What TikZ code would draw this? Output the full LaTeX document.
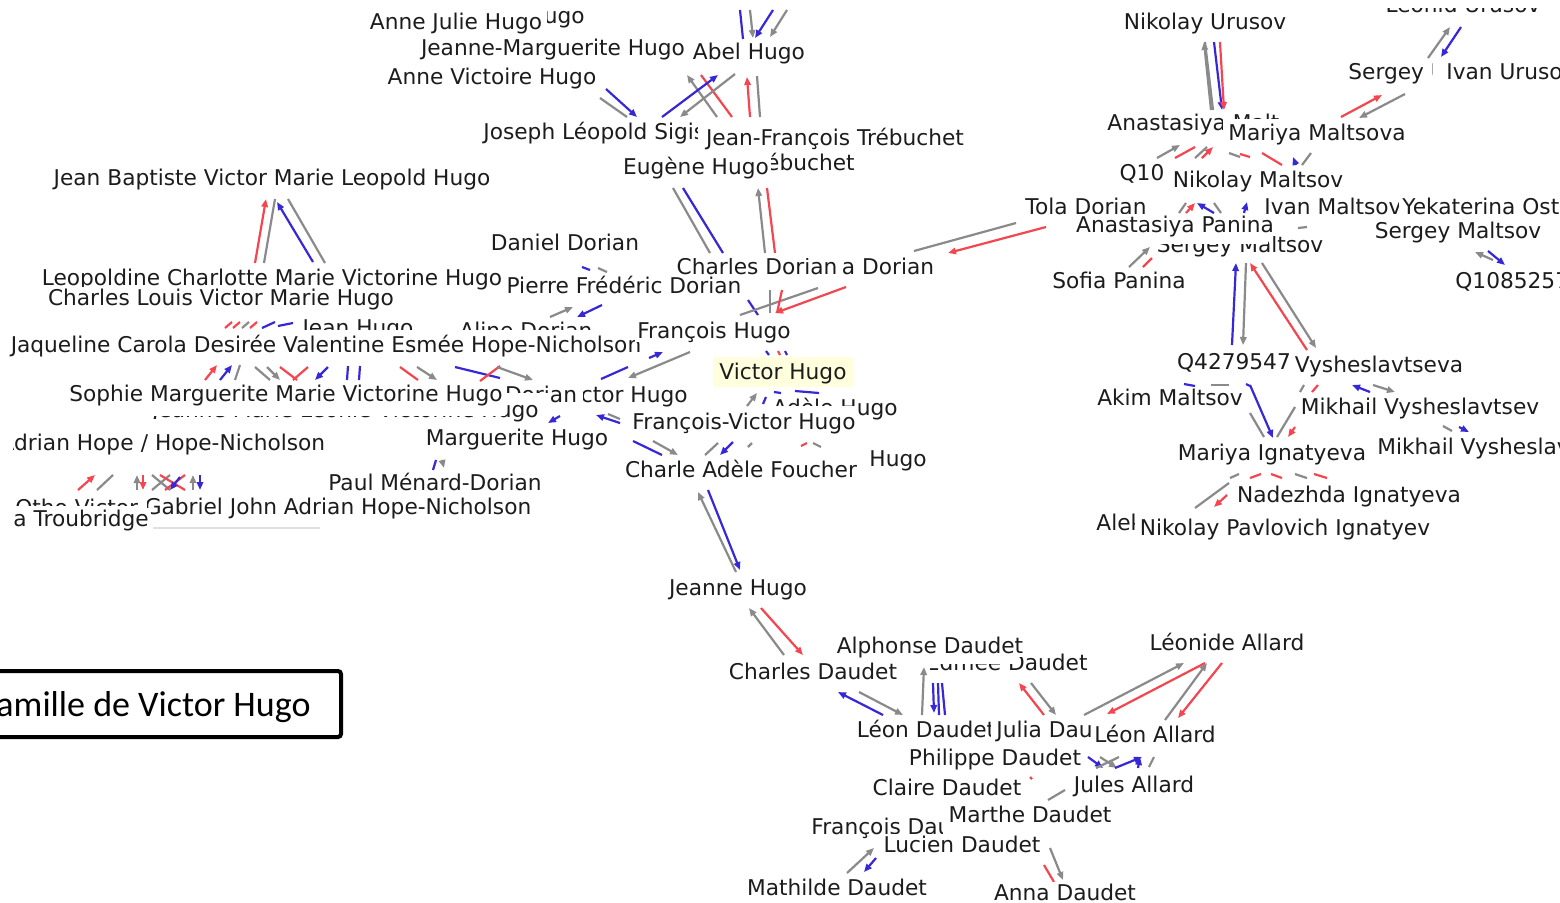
\documentclass[tikz,border=0pt]{standalone}
\usepackage{fontspec}
\setmainfont{DejaVu Sans}
\newfontfamily\titlefont{Carlito}
\usetikzlibrary{arrows.meta,calc}
\definecolor{gcol}{RGB}{138,138,138}
\definecolor{rcol}{RGB}{245,70,80}
\definecolor{bcol}{RGB}{55,40,215}
\definecolor{txt}{RGB}{28,28,28}
\definecolor{vhy}{RGB}{255,255,222}
\pgfdeclarelayer{bg}
\pgfdeclarelayer{edges}
\pgfsetlayers{bg,edges,main}
\begin{document}
\begin{tikzpicture}[x=0.5pt,y=-0.5pt,
 nd/.style={font=\fontsize{10.85pt}{13pt}\selectfont, text=txt, fill=white, inner xsep=1pt, inner ysep=1.5pt, text height=7.8pt, text depth=0pt},
 ln/.style={line width=1.1pt},
 headed/.style={-{Triangle[length=4pt,width=3.2pt]}},
 ga/.style={ln,draw=gcol,headed}, gl/.style={ln,draw=gcol},
 ra/.style={ln,draw=rcol,headed}, rl/.style={ln,draw=rcol},
 ba/.style={ln,draw=bcol,headed}, bl/.style={ln,draw=bcol}]
\useasboundingbox (0,0) rectangle (1560,902);
\begin{pgfonlayer}{bg}
\fill[white] (0,0) rectangle (1560,902);
\end{pgfonlayer}
% ---------------- nodes: top left cluster
\begin{scope}\clip (547,0) rectangle (600,40);
\node[nd,anchor=east] (hgo) at (587,16) {Hugo};\end{scope}
\node[nd] (ajh) at (456,22) {Anne Julie Hugo};
\begin{scope}\clip (400,38) rectangle (700,70);
\node[nd] (jmh) at (553,48) {Jeanne-Marguerite Hugo};\end{scope}
\node[nd] (abel) at (749,52) {Abel Hugo};
\node[nd] (avh) at (492,77) {Anne Victoire Hugo};
\begin{scope}\clip (470,110) rectangle (697,150);
\node[nd,anchor=west] (jls) at (481,132) {Joseph Léopold Sigisbert Hugo};\end{scope}
\node[nd] (jft) at (835,138) {Jean-François Trébuchet};
\begin{scope}\clip (769,150) rectangle (870,180);
\node[nd,anchor=east] (soph) at (857,163) {Sophie Trébuchet};\end{scope}
\node[nd] (eug) at (696,167) {Eugène Hugo};
\node[nd] (jbv) at (272,178) {Jean Baptiste Victor Marie Leopold Hugo};
\node[nd] (dan) at (565,243) {Daniel Dorian};
\begin{scope}\clip (670,258) rectangle (840,290);
\node[nd] (chd) at (757,267) {Charles Dorian};\end{scope}
\node[nd] (adr) at (888,267) {a Dorian};
\node[nd] (lcm) at (272,278) {Leopoldine Charlotte Marie Victorine Hugo};
\node[nd] (clv) at (221,298) {Charles Louis Victor Marie Hugo};
\node[nd] (pfd) at (624,286) {Pierre Frédéric Dorian};
\begin{scope}\clip (290,310) rectangle (600,329);
\node[nd,fill=none] (jean) at (358,328) {Jean Hugo};
\node[nd,fill=none] (aline) at (526,331) {Aline Dorian};\end{scope}
\node[nd] (jaq) at (326,345) {Jaqueline Carola Desirée Valentine Esmée Hope-Nicholson};
\node[nd] (fh) at (714,331) {François Hugo};
\node[nd,fill=vhy,minimum width=70pt,minimum height=15pt] (vh) at (783,372) {Victor Hugo};
\begin{scope}\clip (150,416) rectangle (505,418.5) (505,400) rectangle (545,425);
\node[nd,anchor=east,fill=none] (jml) at (541,410) {Jeanne Marie Léonie Victorine Hugo};\end{scope}
\node[nd] (smm) at (286,394) {Sophie Marguerite Marie Victorine Hugo};
\begin{scope}\clip (583,380) rectangle (700,410);
\node[nd,anchor=east] (gvh) at (690,395) {Victor Hugo};\end{scope}
\begin{scope}\clip (503,380) rectangle (548,392) (548,380) rectangle (578,412);
\node[nd,fill=none] (dor) at (541,395) {Dorian};\end{scope}
\begin{scope}\clip (770,395) rectangle (858,405) (858,395) rectangle (905,420);
\node[nd,anchor=east,fill=none] (adele) at (900,408) {Adèle Hugo};\end{scope}
\node[nd] (fvh) at (744,422) {François-Victor Hugo};
\node[nd] (mgh) at (517,438) {Marguerite Hugo};
\node[nd] (hugo2) at (898,459) {Hugo};
\node[nd] (caf) at (741,470) {Charle Adèle Foucher};
\begin{scope}\clip (13,430) rectangle (140,460);
\node[nd,anchor=east] (adh) at (136,443) {Adrian Hope};\end{scope}
\node[nd] (hn) at (233,443) {/ Hope-Nicholson};
\node[nd] (pmd) at (435,483) {Paul Ménard-Dorian};
\begin{scope}\clip (13,495) rectangle (145,505);
\node[nd,anchor=west,fill=none] (otho) at (13,508) {Otho Victor};\end{scope}
\begin{scope}\clip (147,490) rectangle (560,525);
\node[nd] (gab) at (338,507) {Gabriel John Adrian Hope-Nicholson};\end{scope}
\node[nd,anchor=west] (trb) at (11,519) {a Troubridge};
% ---------------- right cluster
\node[nd] (nu) at (1205,22) {Nikolay Urusov};
\begin{scope}\clip (1380,8) rectangle (1545,20);
\node[nd,fill=none] (lu) at (1463,5) {Leonid Urusov};\end{scope}
\begin{scope}\clip (1340,55) rectangle (1432,90);
\node[nd,anchor=west] (su) at (1346,72) {Sergey Urusov};\end{scope}
\node[nd,anchor=west] (iu) at (1444,72) {Ivan Urusov};
\begin{scope}\clip (1095,100) rectangle (1222,140) (1222,100) rectangle (1280,118);
\node[nd,anchor=west] (anm) at (1105,123) {Anastasiya Maltsova};\end{scope}
\node[nd] (mm) at (1317,133) {Mariya Maltsova};
\node[nd] (q10) at (1142,173) {Q10};
\node[nd] (nm) at (1258,180) {Nikolay Maltsov};
\node[nd] (tola) at (1086,207) {Tola Dorian};
\begin{scope}\clip (1255,190) rectangle (1398,225);
\node[nd,anchor=west] (im) at (1262,207) {Ivan Maltsov};\end{scope}
\node[nd,anchor=west] (yek) at (1400,207) {Yekaterina Ost};
\begin{scope}\clip (1150,244) rectangle (1268,262) (1268,232) rectangle (1330,262);
\node[nd,fill=none] (smb) at (1240,245) {Sergey Maltsov};\end{scope}
\node[nd] (anp) at (1175,225) {Anastasiya Panina};
\node[nd] (smr) at (1458,231) {Sergey Maltsov};
\node[nd] (sof) at (1119,281) {Sofia Panina};
\node[nd,anchor=west] (q108) at (1453,281) {Q1085257};
\node[nd] (q42) at (1234,362) {Q4279547};
\node[nd] (vys) at (1379,365) {Vysheslavtseva};
\node[nd] (akim) at (1170,398) {Akim Maltsov};
\node[nd] (mv) at (1420,407) {Mikhail Vysheslavtsev};
\node[nd,anchor=west] (mv2) at (1375,447) {Mikhail Vysheslavtsev};
\node[nd] (mi) at (1272,453) {Mariya Ignatyeva};
\node[nd] (ni) at (1349,495) {Nadezhda Ignatyeva};
\begin{scope}\clip (1090,505) rectangle (1134,540);
\node[nd,anchor=west] (ale) at (1094,523) {Aleksey};\end{scope}
\node[nd] (npi) at (1285,528) {Nikolay Pavlovich Ignatyev};
% ---------------- bottom cluster
\node[nd] (jh) at (738,588) {Jeanne Hugo};
\begin{scope}\clip (930,664) rectangle (1014,690) (1014,650) rectangle (1095,690);
\node[nd,anchor=east,fill=none] (ed) at (1090,663) {Edmée Daudet};\end{scope}
\node[nd] (ad) at (930,646) {Alphonse Daudet};
\node[nd] (cd) at (813,672) {Charles Daudet};
\node[nd] (la) at (1227,643) {Léonide Allard};
\begin{scope}\clip (850,715) rectangle (990,745);
\node[nd] (ld) at (926,730) {Léon Daudet};\end{scope}
\begin{scope}\clip (990,715) rectangle (1092,745);
\node[nd,anchor=west] (jd) at (994,730) {Julia Daudet};\end{scope}
\node[nd] (la2) at (1155,735) {Léon Allard};
\node[nd] (pd) at (995,758) {Philippe Daudet};
\node[nd] (cl) at (947,788) {Claire Daudet};
\node[nd] (ja) at (1134,785) {Jules Allard};
\begin{scope}\clip (805,812) rectangle (942,840);
\node[nd,anchor=west] (fd) at (809,827) {François Daudet};\end{scope}
\node[nd] (md) at (1030,815) {Marthe Daudet};
\node[nd] (lud) at (962,845) {Lucien Daudet};
\node[nd] (mat) at (837,888) {Mathilde Daudet};
\node[nd] (anna) at (1065,893) {Anna Daudet};
% ---------------- title
\node[draw=black, line width=2pt, rounded corners=1.5pt, fill=white, minimum width=181pt, minimum height=33pt, inner sep=0pt] (tbox) at (160,704) {};
\node[font=\titlefont\fontsize{18pt}{20pt}\selectfont, anchor=base east, inner sep=0pt] (title) at (311,716) {Famille de Victor Hugo};
% ---------------- edges
\begin{pgfonlayer}{edges}
\draw[ra] ($(lcm)+(-17,-15)$) -- ($(jbv)+(-6,21)$);
\draw[gl] ($(lcm)+(-8,-15)$) -- ($(jbv)+(3,21)$);
\draw[ba] ($(lcm)+(41,-16)$) -- ($(jbv)+(5,24)$);
\draw[gl] ($(jbv)+(16,21)$) -- ($(lcm)+(53,-15)$);
\draw[bl] ($(abel)+(-9,-42)$) -- ($(abel)+(-6,-13)$);
\draw[ga] ($(abel)+(1,-42)$) -- ($(abel)+(4,-14)$);
\draw[ba] ($(abel)+(24,-42)$) -- ($(abel)+(6,-14)$);
\draw[ga] ($(abel)+(38,-42)$) -- ($(abel)+(21,-15)$);
\draw[ga] ($(jft)+(-118,-21)$) -- ($(abel)+(-62,23)$);
\draw[rl] ($(abel)+(-48,23)$) -- ($(jft)+(-103,-21)$);
\draw[ba] ($(jls.west)+(181,-15)$) -- ($(abel)+(-31,23)$);
\draw[ga] ($(abel)+(-14,22)$) -- ($(jls.west)+(199,-15)$);
\draw[ra] ($(jft)+(-85,-21)$) -- ($(abel)+(-2,25)$);
\draw[gl] ($(jft)+(-75,-21)$) -- ($(abel)+(8,24)$);
\draw[gl] ($(avh)+(108,21)$) -- ($(jls.west)+(146,-15)$);
\draw[ba] ($(avh)+(114,12)$) -- ($(jls.west)+(156,-15)$);
\draw[gl] ($(eug)+(-23,21)$) -- ($(chd)+(-47,-14)$);
\draw[bl] ($(eug)+(-13,21)$) -- ($(chd)+(-34,-14)$);
\draw[ga] ($(chd)+(8,-14)$) -- ($(jft)+(-77,50)$);
\draw[rl] ($(chd)+(18,-14)$) -- ($(jft)+(-68,50)$);
\draw[gl] ($(adr)+(26,-16)$) -- ($(tola)+(-70,16)$);
\draw[ra] ($(tola)+(-40,20)$) -- ($(adr)+(60,-14)$);
\draw[bl] ($(dan)+(17,24)$) -- ($(pfd)+(-34,-16)$);
\draw[gl] ($(dan)+(33,25)$) -- ($(pfd)+(-17,-14)$);
\draw[ga] ($(aline)+(24,-14)$) -- ($(pfd)+(-51,21)$);
\draw[ba] ($(pfd)+(-22,19)$) -- ($(aline)+(51,-14)$);
\draw[bl] ($(chd)+(-9,33)$) -- ($(fh)+(44,-16)$);
\draw[gl] ($(fh)+(26,-16)$) -- ($(chd)+(61,21)$);
\draw[ra] ($(adr)+(-42,20)$) -- ($(fh)+(61,-18)$);
\draw[gl] ($(chd)+(13,23)$) -- ($(fh)+(56,-18)$);
\draw[rl] ($(chd)+(25,23)$) -- ($(fh)+(63,-18)$);
\draw[ba] ($(gvh.east)+(-41,-37)$) -- ($(fh)+(-51,21)$);
\draw[ga] ($(fh)+(-24,21)$) -- ($(gvh.east)+(-62,-17)$);
\draw[bl] ($(gvh.east)+(-89,-16)$) -- ($(fh)+(-86,36)$);
\draw[bl] ($(vh)+(-17,-21)$) -- ($(vh)+(-14,-17)$);
\draw[rl] ($(vh)+(-5,-21)$) -- ($(vh)+(-3,-17)$);
\draw[bl] ($(vh)+(2,-21)$) -- ($(vh)+(4,-17)$);
\draw[ga] ($(fvh)+(3,-16)$) -- ($(vh)+(-26,21)$);
\draw[bl] ($(fvh)+(19,-18)$) -- ($(vh)+(-17,25)$);
\draw[bl] ($(vh)+(-9,20)$) -- ($(vh)+(-2,21)$);
\draw[bl] ($(vh)+(12,19)$) -- ($(vh)+(36,21)$);
\draw[ba] ($(fvh)+(-124,1)$) -- ($(gvh.east)+(-94,20)$);
\draw[gl] ($(gvh.east)+(-82,19)$) -- ($(fvh)+(-124,-3)$);
\draw[ba] ($(mgh)+(43,-22)$) -- ($(mgh)+(31,-15)$);
\draw[bl] ($(fvh)+(-111,19)$) -- ($(caf)+(-79,-15)$);
\draw[ga] ($(fvh)+(-91,19)$) -- ($(caf)+(-63,-15)$);
\draw[gl] ($(caf)+(-36,-15)$) -- ($(fvh)+(-26,21)$);
\draw[ba] ($(fvh)+(-11,20)$) -- ($(caf)+(-21,-15)$);
\draw[gl] ($(caf)+(7,-23)$) -- ($(caf)+(11,-27)$);
\draw[rl] ($(caf)+(60,-24)$) -- ($(caf)+(66,-27)$);
\draw[gl] ($(caf)+(72,-27)$) -- ($(caf)+(80,-23)$);
\draw[ga] ($(jh)+(-2,-16)$) -- ($(caf)+(-43,22)$);
\draw[ba] ($(caf)+(-33,20)$) -- ($(jh)+(2,-18)$);
\draw[ga] ($(cd)+(-29,-17)$) -- ($(jh)+(11,20)$);
\draw[ra] ($(jh)+(23,20)$) -- ($(cd)+(-10,-17)$);
\draw[ba] ($(ld)+(-43,-15)$) -- ($(cd)+(25,20)$);
\draw[ga] ($(cd)+(46,20)$) -- ($(ld)+(-23,-15)$);
\draw[ga] ($(ld)+(-4,-15)$) -- ($(ad)+(-6,21)$);
\draw[ba] ($(ad)+(3,37)$) -- ($(ld)+(8,-17)$);
\draw[bl] ($(ad)+(8,37)$) -- ($(ld)+(13,-15)$);
\draw[bl] ($(ad)+(12,37)$) -- ($(ld)+(19,-15)$);
\draw[ra] ($(la2)+(-111,-20)$) -- ($(ad)+(89,37)$);
\draw[ga] ($(ad)+(101,37)$) -- ($(la2)+(-99,-20)$);
\draw[ga] ($(la2)+(-71,-20)$) -- ($(la)+(-43,20)$);
\draw[ra] ($(la)+(-22,20)$) -- ($(la2)+(-48,-21)$);
\draw[ga] ($(la2)+(10,-15)$) -- ($(la)+(-20,20)$);
\draw[ra] ($(la)+(-5,20)$) -- ($(la2)+(23,-17)$);
\draw[ba] ($(pd)+(93,-1)$) -- ($(ja)+(-31,-17)$);
\draw[gl] ($(ja)+(-38,-17)$) -- ($(ja)+(-15,-28)$);
\draw[ga] ($(ja)+(-34,-28)$) -- ($(ja)+(-17,-17)$);
\draw[ba] ($(ja)+(-19,-17)$) -- ($(la2)+(-13,22)$);
\draw[ba] ($(ja)+(4,-17)$) -- ($(la2)+(-15,22)$);
\draw[gl] ($(ja)+(15,-18)$) -- ($(la2)+(-1,22)$);
\draw[gl] ($(md)+(18,-15)$) -- ($(ja)+(-69,5)$);
\draw[rl] ($(md)+(0,-38)$) -- ($(md)+(2,-36)$);
\draw[ga] ($(mat)+(10,-15)$) -- ($(lud)+(-88,3)$);
\draw[ba] ($(lud)+(-86,13)$) -- ($(mat)+(27,-16)$);
\draw[rl] ($(lud)+(82,20)$) -- ($(anna)+(-11,-11)$);
\draw[ga] ($(lud)+(88,3)$) -- ($(anna)+(-2,-13)$);
\draw[ga] ($(mm)+(-106,-23)$) -- ($(nu)+(-1,20)$);
\draw[gl] ($(nu)+(0,20)$) -- ($(mm)+(-104,-23)$);
\draw[ba] ($(nu)+(9,20)$) -- ($(mm)+(-95,-23)$);
\draw[ra] ($(nu)+(15,20)$) -- ($(mm)+(-93,-23)$);
\draw[ga] ($(iu.west)+(-16,-14)$) -- ($(lu)+(-13,22)$);
\draw[ba] ($(lu)+(-2,22)$) -- ($(iu.west)+(-3,-15)$);
\draw[ra] ($(mm)+(24,-16)$) -- ($(su.west)+(36,23)$);
\draw[ga] ($(su.west)+(59,22)$) -- ($(mm)+(42,-15)$);
\draw[ga] ($(q10)+(15,-15)$) -- ($(mm)+(-137,12)$);
\draw[rl] ($(nm)+(-83,-22)$) -- ($(mm)+(-122,14)$);
\draw[gl] ($(nm)+(-63,-22)$) -- ($(mm)+(-110,14)$);
\draw[ra] ($(nm)+(-56,-22)$) -- ($(mm)+(-104,14)$);
\draw[gl] ($(nm)+(-29,-27)$) -- ($(nm)+(-18,-23)$);
\draw[rl] ($(nm)+(-18,-26)$) -- ($(nm)+(-8,-23)$);
\draw[rl] ($(mm)+(-55,20)$) -- ($(nm)+(24,-15)$);
\draw[ba] ($(nm)+(38,-15)$) -- ($(mm)+(-24,24)$);
\draw[gl] ($(nm)+(44,-15)$) -- ($(mm)+(-6,20)$);
\draw[gl] ($(anp)+(4,-12)$) -- ($(nm)+(-72,23)$);
\draw[ra] ($(anp)+(11,-12)$) -- ($(nm)+(-63,23)$);
\draw[ba] ($(anp)+(39,-12)$) -- ($(nm)+(-61,23)$);
\draw[gl] ($(nm)+(-44,23)$) -- ($(anp)+(46,-12)$);
\draw[ba] ($(anp)+(69,-12)$) -- ($(nm)+(-11,22)$);
\draw[gl] ($(anp)+(123,3)$) -- ($(anp)+(132,2)$);
\draw[ga] ($(sof)+(10,-14)$) -- ($(anp)+(-25,22)$);
\draw[rl] ($(sof)+(24,-14)$) -- ($(anp)+(-23,33)$);
\draw[ga] ($(q108.west)+(40,-21)$) -- ($(smr)+(17,21)$);
\draw[ba] ($(smr)+(30,20)$) -- ($(q108.west)+(52,-16)$);
\draw[ba] ($(q42)+(-2,-17)$) -- ($(smb)+(-4,18)$);
\draw[ga] ($(smb)+(6,18)$) -- ($(q42)+(9,-17)$);
\draw[ra] ($(vys)+(-72,-15)$) -- ($(smb)+(10,18)$);
\draw[ga] ($(smb)+(22,18)$) -- ($(vys)+(-63,-17)$);
\draw[bl] ($(q42)+(-50,22)$) -- ($(q42)+(-39,24)$);
\draw[gl] ($(q42)+(-23,23)$) -- ($(q42)+(-5,23)$);
\draw[bl] ($(q42)+(12,22)$) -- ($(q42)+(16,24)$);
\draw[ba] ($(q42)+(16,23)$) -- ($(mi)+(1,-15)$);
\draw[gl] ($(akim)+(80,15)$) -- ($(mi)+(-8,-16)$);
\draw[gl] ($(mv)+(-125,0)$) -- ($(mi)+(5,-16)$);
\draw[ra] ($(mv)+(-125,20)$) -- ($(mi)+(16,-16)$);
\draw[gl] ($(vys)+(-79,27)$) -- ($(vys)+(-75,20)$);
\draw[rl] ($(vys)+(-67,27)$) -- ($(vys)+(-61,20)$);
\draw[ba] ($(mv)+(-50,-15)$) -- ($(vys)+(-27,20)$);
\draw[ga] ($(vys)+(-6,20)$) -- ($(mv)+(-25,-15)$);
\draw[gl] ($(mv)+(23,19)$) -- ($(mv2.west)+(77,-16)$);
\draw[ba] ($(mv)+(39,20)$) -- ($(mv2.west)+(94,-15)$);
\draw[gl] ($(mi)+(-42,25)$) -- ($(mi)+(-33,21)$);
\draw[rl] ($(mi)+(-22,25)$) -- ($(mi)+(-11,21)$);
\draw[rl] ($(mi)+(-1,21)$) -- ($(mi)+(10,25)$);
\draw[gl] ($(mi)+(23,21)$) -- ($(mi)+(35,25)$);
\draw[rl] ($(mi)+(42,21)$) -- ($(mi)+(55,25)$);
\draw[gl] ($(npi)+(-90,-20)$) -- ($(ni)+(-120,-12)$);
\draw[ra] ($(ni)+(-122,0)$) -- ($(npi)+(-71,-21)$);
\draw[rl] ($(jean)+(-133,0)$) -- ($(jean)+(-126,-6)$);
\draw[rl] ($(jean)+(-125,0)$) -- ($(jean)+(-118,-6)$);
\draw[gl] ($(jean)+(-116,0)$) -- ($(jean)+(-109,-6)$);
\draw[rl] ($(jean)+(-108,0)$) -- ($(jean)+(-101,-6)$);
\draw[bl] ($(jean)+(-96,0)$) -- ($(jean)+(-83,-6)$);
\draw[bl] ($(jean)+(-80,-2)$) -- ($(jean)+(-65,-5)$);
\draw[ra] ($(smm)+(-81,-14)$) -- ($(jaq)+(-109,20)$);
\draw[ba] ($(smm)+(-66,-14)$) -- ($(jaq)+(-94,20)$);
\draw[gl] ($(smm)+(-51,-14)$) -- ($(jaq)+(-86,20)$);
\draw[gl] ($(jaq)+(-71,22)$) -- ($(smm)+(-16,-14)$);
\draw[ga] ($(jaq)+(-59,22)$) -- ($(smm)+(-6,-14)$);
\draw[rl] ($(jaq)+(-46,22)$) -- ($(smm)+(11,-14)$);
\draw[rl] ($(jaq)+(-18,22)$) -- ($(smm)+(7,-14)$);
\draw[ba] ($(jaq)+(2,22)$) -- ($(smm)+(29,-14)$);
\draw[bl] ($(jaq)+(22,21)$) -- ($(smm)+(61,-14)$);
\draw[bl] ($(jaq)+(34,21)$) -- ($(smm)+(73,-14)$);
\draw[rl] ($(jaq)+(74,22)$) -- ($(smm)+(132,-14)$);
\draw[ga] ($(jaq)+(91,22)$) -- ($(smm)+(151,-14)$);
\draw[bl] ($(jaq)+(129,22)$) -- ($(smm)+(214,-16)$);
\draw[rl] ($(jaq)+(174,21)$) -- ($(smm)+(194,-13)$);
\draw[ga] ($(jaq)+(171,22)$) -- ($(smm)+(247,-14)$);
\draw[ra] ($(gab)+(-260,-17)$) -- ($(hn)+(-138,32)$);
\draw[gl] ($(gab)+(-241,-17)$) -- ($(hn)+(-120,32)$);
\draw[ga] ($(gab)+(-201,-17)$) -- ($(hn)+(-96,32)$);
\draw[ra] ($(hn)+(-90,32)$) -- ($(gab)+(-195,-17)$);
\draw[gl] ($(hn)+(-81,32)$) -- ($(gab)+(-168,-17)$);
\draw[gl] ($(hn)+(-63,32)$) -- ($(gab)+(-186,-17)$);
\draw[rl] ($(hn)+(-73,32)$) -- ($(gab)+(-153,-17)$);
\draw[rl] ($(hn)+(-48,32)$) -- ($(gab)+(-173,-17)$);
\draw[ba] ($(hn)+(-53,34)$) -- ($(gab)+(-168,-17)$);
\draw[ga] ($(gab)+(-145,-17)$) -- ($(hn)+(-40,32)$);
\draw[ba] ($(hn)+(-33,32)$) -- ($(gab)+(-138,-17)$);
\draw[bl] ($(pmd)+(-2,-13)$) -- ($(mgh)+(-81,22)$);
\draw[ga] ($(mgh)+(-75,22)$) -- ($(pmd)+(9,-15)$);
\draw[black!12, line width=0.6pt] ($(gab)+(-185,21)$) -- ($(gab)+(-18,21)$);
\end{pgfonlayer}
\end{tikzpicture}
\end{document}
